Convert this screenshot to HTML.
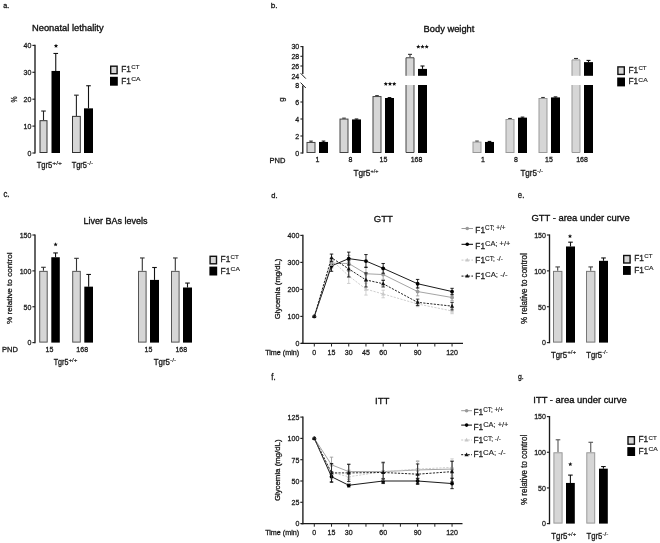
<!DOCTYPE html>
<html><head><meta charset="utf-8"><title>Figure</title>
<style>
html,body{margin:0;padding:0;background:#fff;}
body{width:660px;height:543px;overflow:hidden;}
svg{display:block;font-family:"Liberation Sans",sans-serif;filter:grayscale(1);}
</style></head><body>
<svg width="660" height="543" viewBox="0 0 660 543">
<rect width="660" height="543" fill="#fff"/>
<text transform="translate(3.296 7.9) scale(0.936 1)" font-size="7.628" fill="#1a1a1a" stroke="#1a1a1a" stroke-width="0.31">a.</text>
<text transform="translate(270.763 7.9) scale(1.07 1)" font-size="7.724" fill="#1a1a1a" stroke="#1a1a1a" stroke-width="0.29">b.</text>
<text transform="translate(3.471 197.4) scale(0.947 1)" font-size="8.186" fill="#1a1a1a" stroke="#1a1a1a" stroke-width="0.308">c.</text>
<text transform="translate(271.278 197.8) scale(0.98 1)" font-size="7.724" fill="#1a1a1a" stroke="#1a1a1a" stroke-width="0.303">d.</text>
<text transform="translate(517.872 198) scale(0.846 1)" font-size="9.116" fill="#1a1a1a" stroke="#1a1a1a" stroke-width="0.325">e.</text>
<text transform="translate(271.283 380) scale(0.906 1)" font-size="8.581" fill="#1a1a1a" stroke="#1a1a1a" stroke-width="0.315">f.</text>
<text transform="translate(517.909 379) scale(0.945 1)" font-size="7.256" fill="#1a1a1a" stroke="#1a1a1a" stroke-width="0.308">g.</text>
<text transform="translate(31.978 31.2) scale(1.02 1)" font-size="9.172" fill="#111" stroke="#111" stroke-width="0.337">Neonatal lethality</text>
<line x1="35" y1="44.8" x2="35" y2="153.6" stroke="#1a1a1a" stroke-width="1.35"/>
<line x1="32.4" y1="153" x2="35" y2="153" stroke="#222" stroke-width="1.15"/>
<text transform="translate(31.4 155.85) scale(0.88 1)" font-size="8" text-anchor="end" fill="#1a1a1a" stroke="#1a1a1a" stroke-width="0.3">0</text>
<line x1="32.4" y1="126.1" x2="35" y2="126.1" stroke="#222" stroke-width="1.15"/>
<text transform="translate(31.4 128.95) scale(0.88 1)" font-size="8" text-anchor="end" fill="#1a1a1a" stroke="#1a1a1a" stroke-width="0.3">10</text>
<line x1="32.4" y1="99.2" x2="35" y2="99.2" stroke="#222" stroke-width="1.15"/>
<text transform="translate(31.4 102.05) scale(0.88 1)" font-size="8" text-anchor="end" fill="#1a1a1a" stroke="#1a1a1a" stroke-width="0.3">20</text>
<line x1="32.4" y1="72.3" x2="35" y2="72.3" stroke="#222" stroke-width="1.15"/>
<text transform="translate(31.4 75.15) scale(0.88 1)" font-size="8" text-anchor="end" fill="#1a1a1a" stroke="#1a1a1a" stroke-width="0.3">30</text>
<line x1="32.4" y1="45.4" x2="35" y2="45.4" stroke="#222" stroke-width="1.15"/>
<text transform="translate(31.4 48.25) scale(0.88 1)" font-size="8" text-anchor="end" fill="#1a1a1a" stroke="#1a1a1a" stroke-width="0.3">40</text>
<text transform="translate(16.859 102.44) rotate(-90) scale(0.827 1)" font-size="8.286" fill="#1a1a1a" stroke="#1a1a1a" stroke-width="0.3">%</text>
<line x1="43.5" y1="111.036" x2="43.5" y2="120.182" stroke="#222" stroke-width="1.1"/>
<line x1="41.2" y1="111.036" x2="45.8" y2="111.036" stroke="#222" stroke-width="1.1"/>
<rect x="40" y="120.682" width="7" height="31.818" fill="#d6d6d6" stroke="#333" stroke-width="1"/>
<line x1="55.75" y1="53.47" x2="55.75" y2="70.955" stroke="#111" stroke-width="1.1"/>
<line x1="53.45" y1="53.47" x2="58.05" y2="53.47" stroke="#111" stroke-width="1.1"/>
<rect x="51.5" y="70.955" width="8.5" height="82.045" fill="#000"/>
<line x1="76.4" y1="95.165" x2="76.4" y2="115.878" stroke="#222" stroke-width="1.1"/>
<line x1="74.1" y1="95.165" x2="78.7" y2="95.165" stroke="#222" stroke-width="1.1"/>
<rect x="72.5" y="116.378" width="7.8" height="36.122" fill="#d6d6d6" stroke="#333" stroke-width="1"/>
<line x1="88.5" y1="85.75" x2="88.5" y2="108.346" stroke="#111" stroke-width="1.1"/>
<line x1="86.2" y1="85.75" x2="90.8" y2="85.75" stroke="#111" stroke-width="1.1"/>
<rect x="84" y="108.346" width="9" height="44.654" fill="#000"/>
<polygon points="56,43.65 56.617,45.051 58.14,45.205 56.999,46.224 57.323,47.72 56,46.95 54.677,47.72 55.001,46.224 53.86,45.205 55.383,45.051" fill="#111"/>
<rect x="110.7" y="66.2" width="6.4" height="7.5" fill="#d6d6d6" stroke="#111" stroke-width="1.4"/>
<rect x="110" y="76.8" width="7.8" height="8.9" fill="#000"/>
<text transform="translate(121.214 71.9) scale(0.907 1)" font-size="9.164" fill="#222" stroke="#222" stroke-width="0.315">F1</text>
<text transform="translate(131.19 69) scale(1.028 1)" font-size="6.022" fill="#222" stroke="#222" stroke-width="0.148">CT</text>
<text transform="translate(121.214 83.7) scale(0.907 1)" font-size="9.164" fill="#222" stroke="#222" stroke-width="0.315">F1</text>
<text transform="translate(131.164 80.8) scale(1.203 1)" font-size="5.591" fill="#222" stroke="#222" stroke-width="0.136">CA</text>
<text transform="translate(36.629 167.5) scale(0.914 1)" font-size="8.291" fill="#1a1a1a" stroke="#1a1a1a" stroke-width="0.313">Tgr5</text>
<text transform="translate(52.262 164.5) scale(1.139 1)" font-size="5.931" fill="#1a1a1a" stroke="#1a1a1a" stroke-width="0.168">+/+</text>
<text transform="translate(71.632 167.5) scale(0.902 1)" font-size="8.291" fill="#1a1a1a" stroke="#1a1a1a" stroke-width="0.315">Tgr5</text>
<text transform="translate(87.11 164.5) scale(1.088 1)" font-size="5.931" fill="#1a1a1a" stroke="#1a1a1a" stroke-width="0.172">-/-</text>
<text transform="translate(423.58 32.2) scale(0.96 1)" font-size="9.724" fill="#111" stroke="#111" stroke-width="0.347">Body weight</text>
<line x1="302.8" y1="46" x2="302.8" y2="74" stroke="#1a1a1a" stroke-width="1.35"/>
<line x1="302.8" y1="85.6" x2="302.8" y2="153.6" stroke="#1a1a1a" stroke-width="1.35"/>
<line x1="300.6" y1="73.2" x2="305.8" y2="78.6" stroke="#222" stroke-width="1"/>
<line x1="300.6" y1="82.6" x2="305.8" y2="88" stroke="#222" stroke-width="1"/>
<line x1="300.4" y1="46.6" x2="303" y2="46.6" stroke="#222" stroke-width="1.1"/>
<text transform="translate(299.2 49.45) scale(0.88 1)" font-size="8" text-anchor="end" fill="#1a1a1a" stroke="#1a1a1a" stroke-width="0.3">30</text>
<line x1="300.4" y1="56.3" x2="303" y2="56.3" stroke="#222" stroke-width="1.1"/>
<text transform="translate(299.2 59.15) scale(0.88 1)" font-size="8" text-anchor="end" fill="#1a1a1a" stroke="#1a1a1a" stroke-width="0.3">28</text>
<line x1="300.4" y1="66" x2="303" y2="66" stroke="#222" stroke-width="1.1"/>
<text transform="translate(299.2 68.85) scale(0.88 1)" font-size="8" text-anchor="end" fill="#1a1a1a" stroke="#1a1a1a" stroke-width="0.3">26</text>
<text transform="translate(299.2 78.55) scale(0.88 1)" font-size="8" text-anchor="end" fill="#1a1a1a" stroke="#1a1a1a" stroke-width="0.3">24</text>
<text transform="translate(299.2 87.85) scale(0.88 1)" font-size="8" text-anchor="end" fill="#1a1a1a" stroke="#1a1a1a" stroke-width="0.3">8</text>
<line x1="300.4" y1="102" x2="303" y2="102" stroke="#222" stroke-width="1.1"/>
<text transform="translate(299.2 104.85) scale(0.88 1)" font-size="8" text-anchor="end" fill="#1a1a1a" stroke="#1a1a1a" stroke-width="0.3">6</text>
<line x1="300.4" y1="119" x2="303" y2="119" stroke="#222" stroke-width="1.1"/>
<text transform="translate(299.2 121.85) scale(0.88 1)" font-size="8" text-anchor="end" fill="#1a1a1a" stroke="#1a1a1a" stroke-width="0.3">4</text>
<line x1="300.4" y1="136" x2="303" y2="136" stroke="#222" stroke-width="1.1"/>
<text transform="translate(299.2 138.85) scale(0.88 1)" font-size="8" text-anchor="end" fill="#1a1a1a" stroke="#1a1a1a" stroke-width="0.3">2</text>
<line x1="300.4" y1="153" x2="303" y2="153" stroke="#222" stroke-width="1.1"/>
<text transform="translate(299.2 155.85) scale(0.88 1)" font-size="8" text-anchor="end" fill="#1a1a1a" stroke="#1a1a1a" stroke-width="0.3">0</text>
<text transform="translate(283.557 101.831) rotate(-90) scale(0.982 1)" font-size="7.919" fill="#1a1a1a" stroke="#1a1a1a" stroke-width="0.3">g</text>
<line x1="311" y1="141.1" x2="311" y2="141.95" stroke="#333" stroke-width="1.1"/>
<line x1="309.2" y1="141.1" x2="312.8" y2="141.1" stroke="#333" stroke-width="1.1"/>
<rect x="307" y="142.45" width="8" height="10.05" fill="#d6d6d6" stroke="#444" stroke-width="1"/>
<line x1="323.5" y1="141.1" x2="323.5" y2="141.95" stroke="#111" stroke-width="1.1"/>
<line x1="321.7" y1="141.1" x2="325.3" y2="141.1" stroke="#111" stroke-width="1.1"/>
<rect x="319" y="141.95" width="9" height="11.05" fill="#000"/>
<line x1="344" y1="118.15" x2="344" y2="118.575" stroke="#333" stroke-width="1.1"/>
<line x1="342.2" y1="118.15" x2="345.8" y2="118.15" stroke="#333" stroke-width="1.1"/>
<rect x="340" y="119.075" width="8" height="33.425" fill="#d6d6d6" stroke="#444" stroke-width="1"/>
<line x1="356.5" y1="119" x2="356.5" y2="119.425" stroke="#111" stroke-width="1.1"/>
<line x1="354.7" y1="119" x2="358.3" y2="119" stroke="#111" stroke-width="1.1"/>
<rect x="352" y="119.425" width="9" height="33.575" fill="#000"/>
<line x1="377" y1="95.625" x2="377" y2="96.05" stroke="#333" stroke-width="1.1"/>
<line x1="375.2" y1="95.625" x2="378.8" y2="95.625" stroke="#333" stroke-width="1.1"/>
<rect x="373" y="96.55" width="8" height="55.95" fill="#d6d6d6" stroke="#444" stroke-width="1"/>
<line x1="389.5" y1="97.58" x2="389.5" y2="98.005" stroke="#111" stroke-width="1.1"/>
<line x1="387.7" y1="97.58" x2="391.3" y2="97.58" stroke="#111" stroke-width="1.1"/>
<rect x="385" y="98.005" width="9" height="54.995" fill="#000"/>
<line x1="410" y1="54.36" x2="410" y2="57.27" stroke="#333" stroke-width="1.1"/>
<line x1="408" y1="54.36" x2="412" y2="54.36" stroke="#333" stroke-width="1.1"/>
<path d="M406 75.8V57.77H414V75.8" fill="#d6d6d6" stroke="#444" stroke-width="1"/>
<path d="M406 85V152.5H414V85" fill="#d6d6d6" stroke="#444" stroke-width="1"/>
<line x1="422.5" y1="66" x2="422.5" y2="68.91" stroke="#111" stroke-width="1.1"/>
<line x1="420.5" y1="66" x2="424.5" y2="66" stroke="#111" stroke-width="1.1"/>
<rect x="418" y="68.91" width="9" height="6.89" fill="#000"/>
<rect x="418" y="85" width="9" height="68" fill="#000"/>
<line x1="477" y1="141.1" x2="477" y2="141.61" stroke="#333" stroke-width="1.1"/>
<line x1="475.2" y1="141.1" x2="478.8" y2="141.1" stroke="#333" stroke-width="1.1"/>
<rect x="473" y="142.11" width="8" height="10.39" fill="#d6d6d6" stroke="#999" stroke-width="1"/>
<line x1="489.5" y1="141.44" x2="489.5" y2="141.95" stroke="#111" stroke-width="1.1"/>
<line x1="487.7" y1="141.44" x2="491.3" y2="141.44" stroke="#111" stroke-width="1.1"/>
<rect x="485" y="141.95" width="9" height="11.05" fill="#000"/>
<line x1="510" y1="118.49" x2="510" y2="119" stroke="#333" stroke-width="1.1"/>
<line x1="508.2" y1="118.49" x2="511.8" y2="118.49" stroke="#333" stroke-width="1.1"/>
<rect x="506" y="119.5" width="8" height="33" fill="#d6d6d6" stroke="#999" stroke-width="1"/>
<line x1="522.5" y1="117.13" x2="522.5" y2="117.64" stroke="#111" stroke-width="1.1"/>
<line x1="520.7" y1="117.13" x2="524.3" y2="117.13" stroke="#111" stroke-width="1.1"/>
<rect x="518" y="117.64" width="9" height="35.36" fill="#000"/>
<line x1="543" y1="97.495" x2="543" y2="98.005" stroke="#333" stroke-width="1.1"/>
<line x1="541.2" y1="97.495" x2="544.8" y2="97.495" stroke="#333" stroke-width="1.1"/>
<rect x="539" y="98.505" width="8" height="53.995" fill="#d6d6d6" stroke="#999" stroke-width="1"/>
<line x1="555.5" y1="96.9" x2="555.5" y2="97.41" stroke="#111" stroke-width="1.1"/>
<line x1="553.7" y1="96.9" x2="557.3" y2="96.9" stroke="#111" stroke-width="1.1"/>
<rect x="551" y="97.41" width="9" height="55.59" fill="#000"/>
<line x1="576" y1="58.482" x2="576" y2="59.404" stroke="#333" stroke-width="1.1"/>
<line x1="574" y1="58.482" x2="578" y2="58.482" stroke="#333" stroke-width="1.1"/>
<path d="M572 75.8V59.904H580V75.8" fill="#d6d6d6" stroke="#999" stroke-width="1"/>
<path d="M572 85V152.5H580V85" fill="#d6d6d6" stroke="#999" stroke-width="1"/>
<line x1="588.5" y1="60.423" x2="588.5" y2="62.12" stroke="#111" stroke-width="1.1"/>
<line x1="586.5" y1="60.423" x2="590.5" y2="60.423" stroke="#111" stroke-width="1.1"/>
<rect x="584" y="62.12" width="9" height="13.68" fill="#000"/>
<rect x="584" y="85" width="9" height="68" fill="#000"/>
<polygon points="385.8,81.65 386.417,83.051 387.94,83.205 386.799,84.224 387.123,85.72 385.8,84.95 384.477,85.72 384.801,84.224 383.66,83.205 385.183,83.051" fill="#111"/>
<polygon points="390,81.65 390.617,83.051 392.14,83.205 390.999,84.224 391.323,85.72 390,84.95 388.677,85.72 389.001,84.224 387.86,83.205 389.383,83.051" fill="#111"/>
<polygon points="394.2,81.65 394.817,83.051 396.34,83.205 395.199,84.224 395.523,85.72 394.2,84.95 392.877,85.72 393.201,84.224 392.06,83.205 393.583,83.051" fill="#111"/>
<polygon points="418.3,44.55 418.917,45.951 420.44,46.105 419.299,47.124 419.623,48.62 418.3,47.85 416.977,48.62 417.301,47.124 416.16,46.105 417.683,45.951" fill="#111"/>
<polygon points="422.5,44.55 423.117,45.951 424.64,46.105 423.499,47.124 423.823,48.62 422.5,47.85 421.177,48.62 421.501,47.124 420.36,46.105 421.883,45.951" fill="#111"/>
<polygon points="426.7,44.55 427.317,45.951 428.84,46.105 427.699,47.124 428.023,48.62 426.7,47.85 425.377,48.62 425.701,47.124 424.56,46.105 426.083,45.951" fill="#111"/>
<text transform="translate(269.48 162.5) scale(1.033 1)" font-size="7.273" fill="#1a1a1a" stroke="#1a1a1a" stroke-width="0.295">PND</text>
<text transform="translate(317.5 162.4) scale(0.88 1)" font-size="8" text-anchor="middle" fill="#1a1a1a" stroke="#1a1a1a" stroke-width="0.3">1</text>
<text transform="translate(483 162.4) scale(0.88 1)" font-size="8" text-anchor="middle" fill="#1a1a1a" stroke="#1a1a1a" stroke-width="0.3">1</text>
<text transform="translate(350.5 162.4) scale(0.88 1)" font-size="8" text-anchor="middle" fill="#1a1a1a" stroke="#1a1a1a" stroke-width="0.3">8</text>
<text transform="translate(516 162.4) scale(0.88 1)" font-size="8" text-anchor="middle" fill="#1a1a1a" stroke="#1a1a1a" stroke-width="0.3">8</text>
<text transform="translate(383.5 162.4) scale(0.88 1)" font-size="8" text-anchor="middle" fill="#1a1a1a" stroke="#1a1a1a" stroke-width="0.3">15</text>
<text transform="translate(549 162.4) scale(0.88 1)" font-size="8" text-anchor="middle" fill="#1a1a1a" stroke="#1a1a1a" stroke-width="0.3">15</text>
<text transform="translate(416.5 162.4) scale(0.88 1)" font-size="8" text-anchor="middle" fill="#1a1a1a" stroke="#1a1a1a" stroke-width="0.3">168</text>
<text transform="translate(582 162.4) scale(0.88 1)" font-size="8" text-anchor="middle" fill="#1a1a1a" stroke="#1a1a1a" stroke-width="0.3">168</text>
<text transform="translate(353.414 176.2) scale(0.999 1)" font-size="8.291" fill="#1a1a1a" stroke="#1a1a1a" stroke-width="0.3">Tgr5</text>
<text transform="translate(370.525 173.2) scale(0.926 1)" font-size="5.931" fill="#1a1a1a" stroke="#1a1a1a" stroke-width="0.187">+/+</text>
<text transform="translate(520.418 176.2) scale(0.975 1)" font-size="8.291" fill="#1a1a1a" stroke="#1a1a1a" stroke-width="0.304">Tgr5</text>
<text transform="translate(537.115 173.2) scale(1.068 1)" font-size="5.931" fill="#1a1a1a" stroke="#1a1a1a" stroke-width="0.174">-/-</text>
<rect x="617.9" y="66.9" width="6.4" height="7.5" fill="#d6d6d6" stroke="#111" stroke-width="1.4"/>
<rect x="617.2" y="77.5" width="7.8" height="8.9" fill="#000"/>
<text transform="translate(628.414 72.6) scale(0.907 1)" font-size="9.164" fill="#222" stroke="#222" stroke-width="0.315">F1</text>
<text transform="translate(638.39 69.7) scale(1.028 1)" font-size="6.022" fill="#222" stroke="#222" stroke-width="0.148">CT</text>
<text transform="translate(628.414 84.4) scale(0.907 1)" font-size="9.164" fill="#222" stroke="#222" stroke-width="0.315">F1</text>
<text transform="translate(638.364 81.5) scale(1.203 1)" font-size="5.591" fill="#222" stroke="#222" stroke-width="0.136">CA</text>
<text transform="translate(83.407 223.8) scale(0.926 1)" font-size="9.724" fill="#111" stroke="#111" stroke-width="0.353">Liver BAs levels</text>
<line x1="35" y1="234.405" x2="35" y2="343.2" stroke="#1a1a1a" stroke-width="1.35"/>
<line x1="32.4" y1="342.6" x2="35" y2="342.6" stroke="#222" stroke-width="1.15"/>
<text transform="translate(31.4 345.45) scale(0.88 1)" font-size="8" text-anchor="end" fill="#1a1a1a" stroke="#1a1a1a" stroke-width="0.3">0</text>
<line x1="32.4" y1="306.735" x2="35" y2="306.735" stroke="#222" stroke-width="1.15"/>
<text transform="translate(31.4 309.585) scale(0.88 1)" font-size="8" text-anchor="end" fill="#1a1a1a" stroke="#1a1a1a" stroke-width="0.3">50</text>
<line x1="32.4" y1="270.87" x2="35" y2="270.87" stroke="#222" stroke-width="1.15"/>
<text transform="translate(31.4 273.72) scale(0.88 1)" font-size="8" text-anchor="end" fill="#1a1a1a" stroke="#1a1a1a" stroke-width="0.3">100</text>
<line x1="32.4" y1="235.005" x2="35" y2="235.005" stroke="#222" stroke-width="1.15"/>
<text transform="translate(31.4 237.855) scale(0.88 1)" font-size="8" text-anchor="end" fill="#1a1a1a" stroke="#1a1a1a" stroke-width="0.3">150</text>
<text transform="translate(12.02 323.885) rotate(-90) scale(1.015 1)" font-size="8.027" fill="#1a1a1a" stroke="#1a1a1a" stroke-width="0.3">% relative to control</text>
<line x1="43.45" y1="267.284" x2="43.45" y2="270.87" stroke="#333" stroke-width="1.1"/>
<line x1="41.15" y1="267.284" x2="45.75" y2="267.284" stroke="#333" stroke-width="1.1"/>
<rect x="39.7" y="271.37" width="7.5" height="70.73" fill="#d6d6d6" stroke="#555" stroke-width="1"/>
<line x1="55.55" y1="252.938" x2="55.55" y2="257.241" stroke="#111" stroke-width="1.1"/>
<line x1="53.25" y1="252.938" x2="57.85" y2="252.938" stroke="#111" stroke-width="1.1"/>
<rect x="51.3" y="257.241" width="8.5" height="85.359" fill="#000"/>
<line x1="76.5" y1="258.317" x2="76.5" y2="270.87" stroke="#333" stroke-width="1.1"/>
<line x1="74.2" y1="258.317" x2="78.8" y2="258.317" stroke="#333" stroke-width="1.1"/>
<rect x="72.7" y="271.37" width="7.6" height="70.73" fill="#d6d6d6" stroke="#555" stroke-width="1"/>
<line x1="88.65" y1="274.457" x2="88.65" y2="286.651" stroke="#111" stroke-width="1.1"/>
<line x1="86.35" y1="274.457" x2="90.95" y2="274.457" stroke="#111" stroke-width="1.1"/>
<rect x="84.3" y="286.651" width="8.7" height="55.949" fill="#000"/>
<line x1="142.3" y1="257.959" x2="142.3" y2="270.87" stroke="#333" stroke-width="1.1"/>
<line x1="140" y1="257.959" x2="144.6" y2="257.959" stroke="#333" stroke-width="1.1"/>
<rect x="138.5" y="271.37" width="7.6" height="70.73" fill="#d6d6d6" stroke="#555" stroke-width="1"/>
<line x1="154.5" y1="267.499" x2="154.5" y2="279.908" stroke="#111" stroke-width="1.1"/>
<line x1="152.2" y1="267.499" x2="156.8" y2="267.499" stroke="#111" stroke-width="1.1"/>
<rect x="150" y="279.908" width="9" height="62.692" fill="#000"/>
<line x1="175.3" y1="257.959" x2="175.3" y2="270.87" stroke="#333" stroke-width="1.1"/>
<line x1="173" y1="257.959" x2="177.6" y2="257.959" stroke="#333" stroke-width="1.1"/>
<rect x="171.5" y="271.37" width="7.6" height="70.73" fill="#d6d6d6" stroke="#555" stroke-width="1"/>
<line x1="187.5" y1="283.064" x2="187.5" y2="287.511" stroke="#111" stroke-width="1.1"/>
<line x1="185.2" y1="283.064" x2="189.8" y2="283.064" stroke="#111" stroke-width="1.1"/>
<rect x="183" y="287.511" width="9" height="55.089" fill="#000"/>
<polygon points="55.6,242.25 56.217,243.651 57.74,243.805 56.599,244.824 56.923,246.32 55.6,245.55 54.277,246.32 54.601,244.824 53.46,243.805 54.983,243.651" fill="#111"/>
<text transform="translate(1.98 352.1) scale(1.033 1)" font-size="7.273" fill="#1a1a1a" stroke="#1a1a1a" stroke-width="0.295">PND</text>
<text transform="translate(49.5 352.1) scale(0.88 1)" font-size="8" text-anchor="middle" fill="#1a1a1a" stroke="#1a1a1a" stroke-width="0.3">15</text>
<text transform="translate(82.2 352.1) scale(0.88 1)" font-size="8" text-anchor="middle" fill="#1a1a1a" stroke="#1a1a1a" stroke-width="0.3">168</text>
<text transform="translate(148.4 352.1) scale(0.88 1)" font-size="8" text-anchor="middle" fill="#1a1a1a" stroke="#1a1a1a" stroke-width="0.3">15</text>
<text transform="translate(181.3 352.1) scale(0.88 1)" font-size="8" text-anchor="middle" fill="#1a1a1a" stroke="#1a1a1a" stroke-width="0.3">168</text>
<text transform="translate(53.639 365.3) scale(0.851 1)" font-size="8.436" fill="#1a1a1a" stroke="#1a1a1a" stroke-width="0.324">Tgr5</text>
<text transform="translate(68.488 362.2) scale(1.051 1)" font-size="5.931" fill="#1a1a1a" stroke="#1a1a1a" stroke-width="0.176">+/+</text>
<text transform="translate(153.722 365.3) scale(0.94 1)" font-size="8.436" fill="#1a1a1a" stroke="#1a1a1a" stroke-width="0.309">Tgr5</text>
<text transform="translate(170.115 362.2) scale(1.068 1)" font-size="5.931" fill="#1a1a1a" stroke="#1a1a1a" stroke-width="0.174">-/-</text>
<rect x="210.1" y="256.3" width="6.4" height="7.5" fill="#d6d6d6" stroke="#111" stroke-width="1.4"/>
<rect x="209.4" y="266.6" width="7.8" height="8.9" fill="#000"/>
<text transform="translate(220.614 262) scale(0.907 1)" font-size="9.164" fill="#222" stroke="#222" stroke-width="0.315">F1</text>
<text transform="translate(230.59 259.1) scale(1.028 1)" font-size="6.022" fill="#222" stroke="#222" stroke-width="0.148">CT</text>
<text transform="translate(220.614 273.5) scale(0.907 1)" font-size="9.164" fill="#222" stroke="#222" stroke-width="0.315">F1</text>
<text transform="translate(230.564 270.6) scale(1.203 1)" font-size="5.591" fill="#222" stroke="#222" stroke-width="0.136">CA</text>
<text transform="translate(373.822 222) scale(1.093 1)" font-size="8.746" fill="#111" stroke="#111" stroke-width="0.268">GTT</text>
<line x1="302.9" y1="234.8" x2="302.9" y2="344" stroke="#1a1a1a" stroke-width="1.35"/>
<line x1="300.3" y1="343.4" x2="302.9" y2="343.4" stroke="#222" stroke-width="1.15"/>
<text transform="translate(299.3 346.25) scale(0.88 1)" font-size="8" text-anchor="end" fill="#1a1a1a" stroke="#1a1a1a" stroke-width="0.3">0</text>
<line x1="300.3" y1="316.4" x2="302.9" y2="316.4" stroke="#222" stroke-width="1.15"/>
<text transform="translate(299.3 319.25) scale(0.88 1)" font-size="8" text-anchor="end" fill="#1a1a1a" stroke="#1a1a1a" stroke-width="0.3">100</text>
<line x1="300.3" y1="289.4" x2="302.9" y2="289.4" stroke="#222" stroke-width="1.15"/>
<text transform="translate(299.3 292.25) scale(0.88 1)" font-size="8" text-anchor="end" fill="#1a1a1a" stroke="#1a1a1a" stroke-width="0.3">200</text>
<line x1="300.3" y1="262.4" x2="302.9" y2="262.4" stroke="#222" stroke-width="1.15"/>
<text transform="translate(299.3 265.25) scale(0.88 1)" font-size="8" text-anchor="end" fill="#1a1a1a" stroke="#1a1a1a" stroke-width="0.3">300</text>
<line x1="300.3" y1="235.4" x2="302.9" y2="235.4" stroke="#222" stroke-width="1.15"/>
<text transform="translate(299.3 238.25) scale(0.88 1)" font-size="8" text-anchor="end" fill="#1a1a1a" stroke="#1a1a1a" stroke-width="0.3">400</text>
<line x1="301" y1="343.3" x2="463" y2="343.3" stroke="#1a1a1a" stroke-width="1.3"/>
<line x1="314.3" y1="343.4" x2="314.3" y2="346.5" stroke="#222" stroke-width="1"/>
<line x1="331.52" y1="343.4" x2="331.52" y2="346.5" stroke="#222" stroke-width="1"/>
<line x1="348.74" y1="343.4" x2="348.74" y2="346.5" stroke="#222" stroke-width="1"/>
<line x1="365.96" y1="343.4" x2="365.96" y2="346.5" stroke="#222" stroke-width="1"/>
<line x1="383.18" y1="343.4" x2="383.18" y2="346.5" stroke="#222" stroke-width="1"/>
<line x1="400.4" y1="343.4" x2="400.4" y2="346.5" stroke="#222" stroke-width="1"/>
<line x1="417.62" y1="343.4" x2="417.62" y2="346.5" stroke="#222" stroke-width="1"/>
<line x1="434.84" y1="343.4" x2="434.84" y2="346.5" stroke="#222" stroke-width="1"/>
<line x1="452.06" y1="343.4" x2="452.06" y2="346.5" stroke="#222" stroke-width="1"/>
<text transform="translate(314.3 354.5) scale(0.88 1)" font-size="8" text-anchor="middle" fill="#1a1a1a" stroke="#1a1a1a" stroke-width="0.3">0</text>
<text transform="translate(331.52 354.5) scale(0.88 1)" font-size="8" text-anchor="middle" fill="#1a1a1a" stroke="#1a1a1a" stroke-width="0.3">15</text>
<text transform="translate(348.74 354.5) scale(0.88 1)" font-size="8" text-anchor="middle" fill="#1a1a1a" stroke="#1a1a1a" stroke-width="0.3">30</text>
<text transform="translate(365.96 354.5) scale(0.88 1)" font-size="8" text-anchor="middle" fill="#1a1a1a" stroke="#1a1a1a" stroke-width="0.3">45</text>
<text transform="translate(383.18 354.5) scale(0.88 1)" font-size="8" text-anchor="middle" fill="#1a1a1a" stroke="#1a1a1a" stroke-width="0.3">60</text>
<text transform="translate(417.62 354.5) scale(0.88 1)" font-size="8" text-anchor="middle" fill="#1a1a1a" stroke="#1a1a1a" stroke-width="0.3">90</text>
<text transform="translate(452.06 354.5) scale(0.88 1)" font-size="8" text-anchor="middle" fill="#1a1a1a" stroke="#1a1a1a" stroke-width="0.3">120</text>
<text transform="translate(265.138 355) scale(0.966 1)" font-size="7.448" fill="#1a1a1a" stroke="#1a1a1a" stroke-width="0.305">Time (min)</text>
<text transform="translate(280.387 319.284) rotate(-90) scale(1.054 1)" font-size="7.292" fill="#1a1a1a" stroke="#1a1a1a" stroke-width="0.3">Glycemia (mg/dL)</text>
<polyline points="314.3,316.4 331.52,263.21 348.74,263.48 365.96,273.74 383.18,274.55 417.62,291.56 452.06,297.5" fill="none" stroke="#9a9a9a" stroke-width="0.9"/>
<line x1="331.52" y1="258.35" x2="331.52" y2="268.07" stroke="#9a9a9a" stroke-width="0.85"/>
<line x1="329.82" y1="258.35" x2="333.22" y2="258.35" stroke="#9a9a9a" stroke-width="0.85"/>
<line x1="329.82" y1="268.07" x2="333.22" y2="268.07" stroke="#9a9a9a" stroke-width="0.85"/>
<line x1="348.74" y1="255.38" x2="348.74" y2="271.58" stroke="#9a9a9a" stroke-width="0.85"/>
<line x1="347.04" y1="255.38" x2="350.44" y2="255.38" stroke="#9a9a9a" stroke-width="0.85"/>
<line x1="347.04" y1="271.58" x2="350.44" y2="271.58" stroke="#9a9a9a" stroke-width="0.85"/>
<line x1="365.96" y1="266.72" x2="365.96" y2="280.76" stroke="#9a9a9a" stroke-width="0.85"/>
<line x1="364.26" y1="266.72" x2="367.66" y2="266.72" stroke="#9a9a9a" stroke-width="0.85"/>
<line x1="364.26" y1="280.76" x2="367.66" y2="280.76" stroke="#9a9a9a" stroke-width="0.85"/>
<line x1="383.18" y1="269.69" x2="383.18" y2="279.41" stroke="#9a9a9a" stroke-width="0.85"/>
<line x1="381.48" y1="269.69" x2="384.88" y2="269.69" stroke="#9a9a9a" stroke-width="0.85"/>
<line x1="381.48" y1="279.41" x2="384.88" y2="279.41" stroke="#9a9a9a" stroke-width="0.85"/>
<line x1="417.62" y1="287.24" x2="417.62" y2="295.88" stroke="#9a9a9a" stroke-width="0.85"/>
<line x1="415.92" y1="287.24" x2="419.32" y2="287.24" stroke="#9a9a9a" stroke-width="0.85"/>
<line x1="415.92" y1="295.88" x2="419.32" y2="295.88" stroke="#9a9a9a" stroke-width="0.85"/>
<line x1="452.06" y1="294.26" x2="452.06" y2="300.74" stroke="#9a9a9a" stroke-width="0.85"/>
<line x1="450.36" y1="294.26" x2="453.76" y2="294.26" stroke="#9a9a9a" stroke-width="0.85"/>
<line x1="450.36" y1="300.74" x2="453.76" y2="300.74" stroke="#9a9a9a" stroke-width="0.85"/>
<circle cx="314.3" cy="316.4" r="1.9" fill="#9a9a9a"/>
<circle cx="331.52" cy="263.21" r="1.9" fill="#9a9a9a"/>
<circle cx="348.74" cy="263.48" r="1.9" fill="#9a9a9a"/>
<circle cx="365.96" cy="273.74" r="1.9" fill="#9a9a9a"/>
<circle cx="383.18" cy="274.55" r="1.9" fill="#9a9a9a"/>
<circle cx="417.62" cy="291.56" r="1.9" fill="#9a9a9a"/>
<circle cx="452.06" cy="297.5" r="1.9" fill="#9a9a9a"/>
<polyline points="314.3,316.4 331.52,265.91 348.74,258.62 365.96,261.05 383.18,268.34 417.62,283.73 452.06,291.56" fill="none" stroke="#000" stroke-width="0.9"/>
<line x1="331.52" y1="260.51" x2="331.52" y2="271.31" stroke="#000" stroke-width="0.85"/>
<line x1="329.82" y1="260.51" x2="333.22" y2="260.51" stroke="#000" stroke-width="0.85"/>
<line x1="329.82" y1="271.31" x2="333.22" y2="271.31" stroke="#000" stroke-width="0.85"/>
<line x1="348.74" y1="252.14" x2="348.74" y2="265.1" stroke="#000" stroke-width="0.85"/>
<line x1="347.04" y1="252.14" x2="350.44" y2="252.14" stroke="#000" stroke-width="0.85"/>
<line x1="347.04" y1="265.1" x2="350.44" y2="265.1" stroke="#000" stroke-width="0.85"/>
<line x1="365.96" y1="254.57" x2="365.96" y2="267.53" stroke="#000" stroke-width="0.85"/>
<line x1="364.26" y1="254.57" x2="367.66" y2="254.57" stroke="#000" stroke-width="0.85"/>
<line x1="364.26" y1="267.53" x2="367.66" y2="267.53" stroke="#000" stroke-width="0.85"/>
<line x1="383.18" y1="263.48" x2="383.18" y2="273.2" stroke="#000" stroke-width="0.85"/>
<line x1="381.48" y1="263.48" x2="384.88" y2="263.48" stroke="#000" stroke-width="0.85"/>
<line x1="381.48" y1="273.2" x2="384.88" y2="273.2" stroke="#000" stroke-width="0.85"/>
<line x1="417.62" y1="279.41" x2="417.62" y2="288.05" stroke="#000" stroke-width="0.85"/>
<line x1="415.92" y1="279.41" x2="419.32" y2="279.41" stroke="#000" stroke-width="0.85"/>
<line x1="415.92" y1="288.05" x2="419.32" y2="288.05" stroke="#000" stroke-width="0.85"/>
<line x1="452.06" y1="288.32" x2="452.06" y2="294.8" stroke="#000" stroke-width="0.85"/>
<line x1="450.36" y1="288.32" x2="453.76" y2="288.32" stroke="#000" stroke-width="0.85"/>
<line x1="450.36" y1="294.8" x2="453.76" y2="294.8" stroke="#000" stroke-width="0.85"/>
<circle cx="314.3" cy="316.4" r="1.9" fill="#000"/>
<circle cx="331.52" cy="265.91" r="1.9" fill="#000"/>
<circle cx="348.74" cy="258.62" r="1.9" fill="#000"/>
<circle cx="365.96" cy="261.05" r="1.9" fill="#000"/>
<circle cx="383.18" cy="268.34" r="1.9" fill="#000"/>
<circle cx="417.62" cy="283.73" r="1.9" fill="#000"/>
<circle cx="452.06" cy="291.56" r="1.9" fill="#000"/>
<polyline points="314.3,316.4 331.52,259.97 348.74,275.9 365.96,289.13 383.18,293.99 417.62,303.98 452.06,311" fill="none" stroke="#c8c8c8" stroke-width="0.9" stroke-dasharray="2.2,1.3"/>
<line x1="331.52" y1="254.57" x2="331.52" y2="265.37" stroke="#c8c8c8" stroke-width="0.85"/>
<line x1="329.82" y1="254.57" x2="333.22" y2="254.57" stroke="#c8c8c8" stroke-width="0.85"/>
<line x1="329.82" y1="265.37" x2="333.22" y2="265.37" stroke="#c8c8c8" stroke-width="0.85"/>
<line x1="348.74" y1="268.34" x2="348.74" y2="283.46" stroke="#c8c8c8" stroke-width="0.85"/>
<line x1="347.04" y1="268.34" x2="350.44" y2="268.34" stroke="#c8c8c8" stroke-width="0.85"/>
<line x1="347.04" y1="283.46" x2="350.44" y2="283.46" stroke="#c8c8c8" stroke-width="0.85"/>
<line x1="365.96" y1="283.19" x2="365.96" y2="295.07" stroke="#c8c8c8" stroke-width="0.85"/>
<line x1="364.26" y1="283.19" x2="367.66" y2="283.19" stroke="#c8c8c8" stroke-width="0.85"/>
<line x1="364.26" y1="295.07" x2="367.66" y2="295.07" stroke="#c8c8c8" stroke-width="0.85"/>
<line x1="383.18" y1="290.21" x2="383.18" y2="297.77" stroke="#c8c8c8" stroke-width="0.85"/>
<line x1="381.48" y1="290.21" x2="384.88" y2="290.21" stroke="#c8c8c8" stroke-width="0.85"/>
<line x1="381.48" y1="297.77" x2="384.88" y2="297.77" stroke="#c8c8c8" stroke-width="0.85"/>
<line x1="417.62" y1="301.28" x2="417.62" y2="306.68" stroke="#c8c8c8" stroke-width="0.85"/>
<line x1="415.92" y1="301.28" x2="419.32" y2="301.28" stroke="#c8c8c8" stroke-width="0.85"/>
<line x1="415.92" y1="306.68" x2="419.32" y2="306.68" stroke="#c8c8c8" stroke-width="0.85"/>
<line x1="452.06" y1="308.3" x2="452.06" y2="313.7" stroke="#c8c8c8" stroke-width="0.85"/>
<line x1="450.36" y1="308.3" x2="453.76" y2="308.3" stroke="#c8c8c8" stroke-width="0.85"/>
<line x1="450.36" y1="313.7" x2="453.76" y2="313.7" stroke="#c8c8c8" stroke-width="0.85"/>
<path d="M314.3 314.1L316.4 317.9L312.2 317.9Z" fill="#c8c8c8"/>
<path d="M331.52 257.67L333.62 261.47L329.42 261.47Z" fill="#c8c8c8"/>
<path d="M348.74 273.6L350.84 277.4L346.64 277.4Z" fill="#c8c8c8"/>
<path d="M365.96 286.83L368.06 290.63L363.86 290.63Z" fill="#c8c8c8"/>
<path d="M383.18 291.69L385.28 295.49L381.08 295.49Z" fill="#c8c8c8"/>
<path d="M417.62 301.68L419.72 305.48L415.52 305.48Z" fill="#c8c8c8"/>
<path d="M452.06 308.7L454.16 312.5L449.96 312.5Z" fill="#c8c8c8"/>
<polyline points="314.3,316.4 331.52,257.81 348.74,268.88 365.96,279.95 383.18,283.73 417.62,302.36 452.06,306.14" fill="none" stroke="#111" stroke-width="0.9" stroke-dasharray="2.2,1.3"/>
<line x1="331.52" y1="254.03" x2="331.52" y2="261.59" stroke="#111" stroke-width="0.85"/>
<line x1="329.82" y1="254.03" x2="333.22" y2="254.03" stroke="#111" stroke-width="0.85"/>
<line x1="329.82" y1="261.59" x2="333.22" y2="261.59" stroke="#111" stroke-width="0.85"/>
<line x1="348.74" y1="260.78" x2="348.74" y2="276.98" stroke="#111" stroke-width="0.85"/>
<line x1="347.04" y1="260.78" x2="350.44" y2="260.78" stroke="#111" stroke-width="0.85"/>
<line x1="347.04" y1="276.98" x2="350.44" y2="276.98" stroke="#111" stroke-width="0.85"/>
<line x1="365.96" y1="272.93" x2="365.96" y2="286.97" stroke="#111" stroke-width="0.85"/>
<line x1="364.26" y1="272.93" x2="367.66" y2="272.93" stroke="#111" stroke-width="0.85"/>
<line x1="364.26" y1="286.97" x2="367.66" y2="286.97" stroke="#111" stroke-width="0.85"/>
<line x1="383.18" y1="280.49" x2="383.18" y2="286.97" stroke="#111" stroke-width="0.85"/>
<line x1="381.48" y1="280.49" x2="384.88" y2="280.49" stroke="#111" stroke-width="0.85"/>
<line x1="381.48" y1="286.97" x2="384.88" y2="286.97" stroke="#111" stroke-width="0.85"/>
<line x1="417.62" y1="299.12" x2="417.62" y2="305.6" stroke="#111" stroke-width="0.85"/>
<line x1="415.92" y1="299.12" x2="419.32" y2="299.12" stroke="#111" stroke-width="0.85"/>
<line x1="415.92" y1="305.6" x2="419.32" y2="305.6" stroke="#111" stroke-width="0.85"/>
<line x1="452.06" y1="302.36" x2="452.06" y2="309.92" stroke="#111" stroke-width="0.85"/>
<line x1="450.36" y1="302.36" x2="453.76" y2="302.36" stroke="#111" stroke-width="0.85"/>
<line x1="450.36" y1="309.92" x2="453.76" y2="309.92" stroke="#111" stroke-width="0.85"/>
<path d="M314.3 314.1L316.4 317.9L312.2 317.9Z" fill="#111"/>
<path d="M331.52 255.51L333.62 259.31L329.42 259.31Z" fill="#111"/>
<path d="M348.74 266.58L350.84 270.38L346.64 270.38Z" fill="#111"/>
<path d="M365.96 277.65L368.06 281.45L363.86 281.45Z" fill="#111"/>
<path d="M383.18 281.43L385.28 285.23L381.08 285.23Z" fill="#111"/>
<path d="M417.62 300.06L419.72 303.86L415.52 303.86Z" fill="#111"/>
<path d="M452.06 303.84L454.16 307.64L449.96 307.64Z" fill="#111"/>
<line x1="461.5" y1="228.5" x2="473" y2="228.5" stroke="#9a9a9a" stroke-width="1"/>
<circle cx="467.25" cy="228.5" r="1.8" fill="#9a9a9a"/>
<text transform="translate(475.314 232.8) scale(0.866 1)" font-size="9.6" fill="#222" stroke="#222" stroke-width="0.322">F1</text>
<text transform="translate(485.083 230.4) scale(0.977 1)" font-size="6.483" fill="#222" stroke="#222" stroke-width="0.142">CT; +/+</text>
<line x1="461.5" y1="244.3" x2="473" y2="244.3" stroke="#000" stroke-width="1"/>
<circle cx="467.25" cy="244.3" r="1.8" fill="#000"/>
<text transform="translate(475.314 248.5) scale(0.866 1)" font-size="9.6" fill="#222" stroke="#222" stroke-width="0.322">F1</text>
<text transform="translate(485.026 246.1) scale(1.153 1)" font-size="6.483" fill="#222" stroke="#222" stroke-width="0.13">CA; +/+</text>
<line x1="461.5" y1="260.1" x2="473" y2="260.1" stroke="#c8c8c8" stroke-width="1" stroke-dasharray="2,1.3"/>
<path d="M467.25 257.8L469.35 261.6L465.15 261.6Z" fill="#c8c8c8"/>
<text transform="translate(475.314 263.3) scale(0.866 1)" font-size="9.6" fill="#222" stroke="#222" stroke-width="0.322">F1</text>
<text transform="translate(485.073 260.9) scale(1.01 1)" font-size="6.483" fill="#222" stroke="#222" stroke-width="0.139">CT; -/-</text>
<line x1="461.5" y1="276.1" x2="473" y2="276.1" stroke="#111" stroke-width="1" stroke-dasharray="2,1.3"/>
<path d="M467.25 273.8L469.35 277.6L465.15 277.6Z" fill="#111"/>
<text transform="translate(475.314 279.4) scale(0.866 1)" font-size="9.6" fill="#222" stroke="#222" stroke-width="0.322">F1</text>
<text transform="translate(485.01 277) scale(1.204 1)" font-size="6.483" fill="#222" stroke="#222" stroke-width="0.127">CA; -/-</text>
<text transform="translate(531.377 221.3) scale(1 1)" font-size="9.448" fill="#111" stroke="#111" stroke-width="0.34">GTT - area under curve</text>
<line x1="549.5" y1="234.405" x2="549.5" y2="343.2" stroke="#1a1a1a" stroke-width="1.35"/>
<line x1="546.9" y1="342.6" x2="549.5" y2="342.6" stroke="#222" stroke-width="1.15"/>
<text transform="translate(545.9 345.45) scale(0.88 1)" font-size="8" text-anchor="end" fill="#1a1a1a" stroke="#1a1a1a" stroke-width="0.3">0</text>
<line x1="546.9" y1="306.735" x2="549.5" y2="306.735" stroke="#222" stroke-width="1.15"/>
<text transform="translate(545.9 309.585) scale(0.88 1)" font-size="8" text-anchor="end" fill="#1a1a1a" stroke="#1a1a1a" stroke-width="0.3">50</text>
<line x1="546.9" y1="270.87" x2="549.5" y2="270.87" stroke="#222" stroke-width="1.15"/>
<text transform="translate(545.9 273.72) scale(0.88 1)" font-size="8" text-anchor="end" fill="#1a1a1a" stroke="#1a1a1a" stroke-width="0.3">100</text>
<line x1="546.9" y1="235.005" x2="549.5" y2="235.005" stroke="#222" stroke-width="1.15"/>
<text transform="translate(545.9 237.855) scale(0.88 1)" font-size="8" text-anchor="end" fill="#1a1a1a" stroke="#1a1a1a" stroke-width="0.3">150</text>
<text transform="translate(527.113 323.882) rotate(-90) scale(0.925 1)" font-size="8.707" fill="#1a1a1a" stroke="#1a1a1a" stroke-width="0.3">% relative to control</text>
<line x1="557.7" y1="266.925" x2="557.7" y2="270.87" stroke="#444" stroke-width="1.1"/>
<line x1="555.4" y1="266.925" x2="560" y2="266.925" stroke="#444" stroke-width="1.1"/>
<rect x="553.5" y="271.37" width="8.4" height="70.73" fill="#d6d6d6" stroke="#777" stroke-width="1"/>
<line x1="570.5" y1="242.178" x2="570.5" y2="246.482" stroke="#111" stroke-width="1.1"/>
<line x1="568.2" y1="242.178" x2="572.8" y2="242.178" stroke="#111" stroke-width="1.1"/>
<rect x="566" y="246.482" width="9" height="96.118" fill="#000"/>
<line x1="590.7" y1="266.925" x2="590.7" y2="270.87" stroke="#444" stroke-width="1.1"/>
<line x1="588.4" y1="266.925" x2="593" y2="266.925" stroke="#444" stroke-width="1.1"/>
<rect x="586.5" y="271.37" width="8.4" height="70.73" fill="#d6d6d6" stroke="#777" stroke-width="1"/>
<line x1="603.5" y1="257.959" x2="603.5" y2="260.828" stroke="#111" stroke-width="1.1"/>
<line x1="601.2" y1="257.959" x2="605.8" y2="257.959" stroke="#111" stroke-width="1.1"/>
<rect x="599" y="260.828" width="9" height="81.772" fill="#000"/>
<polygon points="570,234.05 570.617,235.451 572.14,235.605 570.999,236.624 571.323,238.12 570,237.35 568.677,238.12 569.001,236.624 567.86,235.605 569.383,235.451" fill="#111"/>
<text transform="translate(550.923 357.5) scale(0.934 1)" font-size="8.436" fill="#1a1a1a" stroke="#1a1a1a" stroke-width="0.31">Tgr5</text>
<text transform="translate(567.188 354.4) scale(1.051 1)" font-size="5.931" fill="#1a1a1a" stroke="#1a1a1a" stroke-width="0.176">+/+</text>
<text transform="translate(586.227 357.5) scale(0.91 1)" font-size="8.436" fill="#1a1a1a" stroke="#1a1a1a" stroke-width="0.314">Tgr5</text>
<text transform="translate(602.131 354.4) scale(1.009 1)" font-size="5.931" fill="#1a1a1a" stroke="#1a1a1a" stroke-width="0.179">-/-</text>
<rect x="623.7" y="255.5" width="6.4" height="7.5" fill="#d6d6d6" stroke="#111" stroke-width="1.4"/>
<rect x="623" y="266" width="7.8" height="8.9" fill="#000"/>
<text transform="translate(634.214 261.2) scale(0.907 1)" font-size="9.164" fill="#222" stroke="#222" stroke-width="0.315">F1</text>
<text transform="translate(644.19 258.3) scale(1.028 1)" font-size="6.022" fill="#222" stroke="#222" stroke-width="0.148">CT</text>
<text transform="translate(634.214 272.9) scale(0.907 1)" font-size="9.164" fill="#222" stroke="#222" stroke-width="0.315">F1</text>
<text transform="translate(644.164 270) scale(1.203 1)" font-size="5.591" fill="#222" stroke="#222" stroke-width="0.136">CA</text>
<text transform="translate(375.003 403.6) scale(0.995 1)" font-size="9.745" fill="#111" stroke="#111" stroke-width="0.281">ITT</text>
<line x1="302.9" y1="416.5" x2="302.9" y2="524.2" stroke="#1a1a1a" stroke-width="1.35"/>
<line x1="300.3" y1="523.6" x2="302.9" y2="523.6" stroke="#222" stroke-width="1.15"/>
<text transform="translate(299.3 526.45) scale(0.88 1)" font-size="8" text-anchor="end" fill="#1a1a1a" stroke="#1a1a1a" stroke-width="0.3">0</text>
<line x1="300.3" y1="502.3" x2="302.9" y2="502.3" stroke="#222" stroke-width="1.15"/>
<text transform="translate(299.3 505.15) scale(0.88 1)" font-size="8" text-anchor="end" fill="#1a1a1a" stroke="#1a1a1a" stroke-width="0.3">25</text>
<line x1="300.3" y1="481" x2="302.9" y2="481" stroke="#222" stroke-width="1.15"/>
<text transform="translate(299.3 483.85) scale(0.88 1)" font-size="8" text-anchor="end" fill="#1a1a1a" stroke="#1a1a1a" stroke-width="0.3">50</text>
<line x1="300.3" y1="459.7" x2="302.9" y2="459.7" stroke="#222" stroke-width="1.15"/>
<text transform="translate(299.3 462.55) scale(0.88 1)" font-size="8" text-anchor="end" fill="#1a1a1a" stroke="#1a1a1a" stroke-width="0.3">75</text>
<line x1="300.3" y1="438.4" x2="302.9" y2="438.4" stroke="#222" stroke-width="1.15"/>
<text transform="translate(299.3 441.25) scale(0.88 1)" font-size="8" text-anchor="end" fill="#1a1a1a" stroke="#1a1a1a" stroke-width="0.3">100</text>
<line x1="300.3" y1="417.1" x2="302.9" y2="417.1" stroke="#222" stroke-width="1.15"/>
<text transform="translate(299.3 419.95) scale(0.88 1)" font-size="8" text-anchor="end" fill="#1a1a1a" stroke="#1a1a1a" stroke-width="0.3">125</text>
<line x1="301" y1="523.6" x2="462.5" y2="523.6" stroke="#1a1a1a" stroke-width="1.3"/>
<line x1="314.3" y1="523.6" x2="314.3" y2="526.7" stroke="#222" stroke-width="1"/>
<line x1="331.52" y1="523.6" x2="331.52" y2="526.7" stroke="#222" stroke-width="1"/>
<line x1="348.74" y1="523.6" x2="348.74" y2="526.7" stroke="#222" stroke-width="1"/>
<line x1="365.96" y1="523.6" x2="365.96" y2="526.7" stroke="#222" stroke-width="1"/>
<line x1="383.18" y1="523.6" x2="383.18" y2="526.7" stroke="#222" stroke-width="1"/>
<line x1="400.4" y1="523.6" x2="400.4" y2="526.7" stroke="#222" stroke-width="1"/>
<line x1="417.62" y1="523.6" x2="417.62" y2="526.7" stroke="#222" stroke-width="1"/>
<line x1="434.84" y1="523.6" x2="434.84" y2="526.7" stroke="#222" stroke-width="1"/>
<line x1="452.06" y1="523.6" x2="452.06" y2="526.7" stroke="#222" stroke-width="1"/>
<text transform="translate(314.3 535) scale(0.88 1)" font-size="8" text-anchor="middle" fill="#1a1a1a" stroke="#1a1a1a" stroke-width="0.3">0</text>
<text transform="translate(331.52 535) scale(0.88 1)" font-size="8" text-anchor="middle" fill="#1a1a1a" stroke="#1a1a1a" stroke-width="0.3">15</text>
<text transform="translate(348.74 535) scale(0.88 1)" font-size="8" text-anchor="middle" fill="#1a1a1a" stroke="#1a1a1a" stroke-width="0.3">30</text>
<text transform="translate(383.18 535) scale(0.88 1)" font-size="8" text-anchor="middle" fill="#1a1a1a" stroke="#1a1a1a" stroke-width="0.3">60</text>
<text transform="translate(417.62 535) scale(0.88 1)" font-size="8" text-anchor="middle" fill="#1a1a1a" stroke="#1a1a1a" stroke-width="0.3">90</text>
<text transform="translate(452.06 535) scale(0.88 1)" font-size="8" text-anchor="middle" fill="#1a1a1a" stroke="#1a1a1a" stroke-width="0.3">120</text>
<text transform="translate(265.138 535) scale(0.966 1)" font-size="7.448" fill="#1a1a1a" stroke="#1a1a1a" stroke-width="0.305">Time (min)</text>
<text transform="translate(280.387 501.092) rotate(-90) scale(1.074 1)" font-size="7.292" fill="#1a1a1a" stroke="#1a1a1a" stroke-width="0.3">Glycemia (mg/dL)</text>
<polyline points="314.3,438.4 331.52,464.812 348.74,471.628 383.18,471.628 417.62,469.924 452.06,469.072" fill="none" stroke="#9a9a9a" stroke-width="0.9"/>
<line x1="331.52" y1="457.144" x2="331.52" y2="472.48" stroke="#9a9a9a" stroke-width="0.85"/>
<line x1="329.82" y1="457.144" x2="333.22" y2="457.144" stroke="#9a9a9a" stroke-width="0.85"/>
<line x1="329.82" y1="472.48" x2="333.22" y2="472.48" stroke="#9a9a9a" stroke-width="0.85"/>
<line x1="348.74" y1="463.96" x2="348.74" y2="479.296" stroke="#9a9a9a" stroke-width="0.85"/>
<line x1="347.04" y1="463.96" x2="350.44" y2="463.96" stroke="#9a9a9a" stroke-width="0.85"/>
<line x1="347.04" y1="479.296" x2="350.44" y2="479.296" stroke="#9a9a9a" stroke-width="0.85"/>
<line x1="383.18" y1="463.108" x2="383.18" y2="480.148" stroke="#9a9a9a" stroke-width="0.85"/>
<line x1="381.48" y1="463.108" x2="384.88" y2="463.108" stroke="#9a9a9a" stroke-width="0.85"/>
<line x1="381.48" y1="480.148" x2="384.88" y2="480.148" stroke="#9a9a9a" stroke-width="0.85"/>
<line x1="417.62" y1="461.404" x2="417.62" y2="478.444" stroke="#9a9a9a" stroke-width="0.85"/>
<line x1="415.92" y1="461.404" x2="419.32" y2="461.404" stroke="#9a9a9a" stroke-width="0.85"/>
<line x1="415.92" y1="478.444" x2="419.32" y2="478.444" stroke="#9a9a9a" stroke-width="0.85"/>
<line x1="452.06" y1="460.552" x2="452.06" y2="477.592" stroke="#9a9a9a" stroke-width="0.85"/>
<line x1="450.36" y1="460.552" x2="453.76" y2="460.552" stroke="#9a9a9a" stroke-width="0.85"/>
<line x1="450.36" y1="477.592" x2="453.76" y2="477.592" stroke="#9a9a9a" stroke-width="0.85"/>
<circle cx="314.3" cy="438.4" r="1.9" fill="#9a9a9a"/>
<circle cx="331.52" cy="464.812" r="1.9" fill="#9a9a9a"/>
<circle cx="348.74" cy="471.628" r="1.9" fill="#9a9a9a"/>
<circle cx="383.18" cy="471.628" r="1.9" fill="#9a9a9a"/>
<circle cx="417.62" cy="469.924" r="1.9" fill="#9a9a9a"/>
<circle cx="452.06" cy="469.072" r="1.9" fill="#9a9a9a"/>
<polyline points="314.3,438.4 331.52,476.74 348.74,485.26 383.18,481 417.62,481 452.06,483.556" fill="none" stroke="#000" stroke-width="0.9"/>
<line x1="331.52" y1="471.628" x2="331.52" y2="481.852" stroke="#000" stroke-width="0.85"/>
<line x1="329.82" y1="471.628" x2="333.22" y2="471.628" stroke="#000" stroke-width="0.85"/>
<line x1="329.82" y1="481.852" x2="333.22" y2="481.852" stroke="#000" stroke-width="0.85"/>
<line x1="348.74" y1="483.556" x2="348.74" y2="486.964" stroke="#000" stroke-width="0.85"/>
<line x1="347.04" y1="483.556" x2="350.44" y2="483.556" stroke="#000" stroke-width="0.85"/>
<line x1="347.04" y1="486.964" x2="350.44" y2="486.964" stroke="#000" stroke-width="0.85"/>
<line x1="383.18" y1="478.444" x2="383.18" y2="483.556" stroke="#000" stroke-width="0.85"/>
<line x1="381.48" y1="478.444" x2="384.88" y2="478.444" stroke="#000" stroke-width="0.85"/>
<line x1="381.48" y1="483.556" x2="384.88" y2="483.556" stroke="#000" stroke-width="0.85"/>
<line x1="417.62" y1="478.444" x2="417.62" y2="483.556" stroke="#000" stroke-width="0.85"/>
<line x1="415.92" y1="478.444" x2="419.32" y2="478.444" stroke="#000" stroke-width="0.85"/>
<line x1="415.92" y1="483.556" x2="419.32" y2="483.556" stroke="#000" stroke-width="0.85"/>
<line x1="452.06" y1="478.444" x2="452.06" y2="488.668" stroke="#000" stroke-width="0.85"/>
<line x1="450.36" y1="478.444" x2="453.76" y2="478.444" stroke="#000" stroke-width="0.85"/>
<line x1="450.36" y1="488.668" x2="453.76" y2="488.668" stroke="#000" stroke-width="0.85"/>
<circle cx="314.3" cy="438.4" r="1.9" fill="#000"/>
<circle cx="331.52" cy="476.74" r="1.9" fill="#000"/>
<circle cx="348.74" cy="485.26" r="1.9" fill="#000"/>
<circle cx="383.18" cy="481" r="1.9" fill="#000"/>
<circle cx="417.62" cy="481" r="1.9" fill="#000"/>
<circle cx="452.06" cy="483.556" r="1.9" fill="#000"/>
<polyline points="314.3,438.4 331.52,472.48 348.74,476.74 383.18,471.628 417.62,469.072 452.06,467.368" fill="none" stroke="#c8c8c8" stroke-width="0.9" stroke-dasharray="2.2,1.3"/>
<line x1="331.52" y1="465.664" x2="331.52" y2="479.296" stroke="#c8c8c8" stroke-width="0.85"/>
<line x1="329.82" y1="465.664" x2="333.22" y2="465.664" stroke="#c8c8c8" stroke-width="0.85"/>
<line x1="329.82" y1="479.296" x2="333.22" y2="479.296" stroke="#c8c8c8" stroke-width="0.85"/>
<line x1="348.74" y1="469.924" x2="348.74" y2="483.556" stroke="#c8c8c8" stroke-width="0.85"/>
<line x1="347.04" y1="469.924" x2="350.44" y2="469.924" stroke="#c8c8c8" stroke-width="0.85"/>
<line x1="347.04" y1="483.556" x2="350.44" y2="483.556" stroke="#c8c8c8" stroke-width="0.85"/>
<line x1="383.18" y1="463.108" x2="383.18" y2="480.148" stroke="#c8c8c8" stroke-width="0.85"/>
<line x1="381.48" y1="463.108" x2="384.88" y2="463.108" stroke="#c8c8c8" stroke-width="0.85"/>
<line x1="381.48" y1="480.148" x2="384.88" y2="480.148" stroke="#c8c8c8" stroke-width="0.85"/>
<line x1="417.62" y1="460.552" x2="417.62" y2="477.592" stroke="#c8c8c8" stroke-width="0.85"/>
<line x1="415.92" y1="460.552" x2="419.32" y2="460.552" stroke="#c8c8c8" stroke-width="0.85"/>
<line x1="415.92" y1="477.592" x2="419.32" y2="477.592" stroke="#c8c8c8" stroke-width="0.85"/>
<line x1="452.06" y1="458.848" x2="452.06" y2="475.888" stroke="#c8c8c8" stroke-width="0.85"/>
<line x1="450.36" y1="458.848" x2="453.76" y2="458.848" stroke="#c8c8c8" stroke-width="0.85"/>
<line x1="450.36" y1="475.888" x2="453.76" y2="475.888" stroke="#c8c8c8" stroke-width="0.85"/>
<path d="M314.3 436.1L316.4 439.9L312.2 439.9Z" fill="#c8c8c8"/>
<path d="M331.52 470.18L333.62 473.98L329.42 473.98Z" fill="#c8c8c8"/>
<path d="M348.74 474.44L350.84 478.24L346.64 478.24Z" fill="#c8c8c8"/>
<path d="M383.18 469.328L385.28 473.128L381.08 473.128Z" fill="#c8c8c8"/>
<path d="M417.62 466.772L419.72 470.572L415.52 470.572Z" fill="#c8c8c8"/>
<path d="M452.06 465.068L454.16 468.868L449.96 468.868Z" fill="#c8c8c8"/>
<polyline points="314.3,438.4 331.52,472.906 348.74,472.906 383.18,472.48 417.62,474.184 452.06,471.628" fill="none" stroke="#111" stroke-width="0.9" stroke-dasharray="2.2,1.3"/>
<line x1="331.52" y1="463.534" x2="331.52" y2="482.278" stroke="#111" stroke-width="0.85"/>
<line x1="329.82" y1="463.534" x2="333.22" y2="463.534" stroke="#111" stroke-width="0.85"/>
<line x1="329.82" y1="482.278" x2="333.22" y2="482.278" stroke="#111" stroke-width="0.85"/>
<line x1="348.74" y1="464.386" x2="348.74" y2="481.426" stroke="#111" stroke-width="0.85"/>
<line x1="347.04" y1="464.386" x2="350.44" y2="464.386" stroke="#111" stroke-width="0.85"/>
<line x1="347.04" y1="481.426" x2="350.44" y2="481.426" stroke="#111" stroke-width="0.85"/>
<line x1="383.18" y1="462.256" x2="383.18" y2="482.704" stroke="#111" stroke-width="0.85"/>
<line x1="381.48" y1="462.256" x2="384.88" y2="462.256" stroke="#111" stroke-width="0.85"/>
<line x1="381.48" y1="482.704" x2="384.88" y2="482.704" stroke="#111" stroke-width="0.85"/>
<line x1="417.62" y1="463.96" x2="417.62" y2="484.408" stroke="#111" stroke-width="0.85"/>
<line x1="415.92" y1="463.96" x2="419.32" y2="463.96" stroke="#111" stroke-width="0.85"/>
<line x1="415.92" y1="484.408" x2="419.32" y2="484.408" stroke="#111" stroke-width="0.85"/>
<line x1="452.06" y1="461.404" x2="452.06" y2="481.852" stroke="#111" stroke-width="0.85"/>
<line x1="450.36" y1="461.404" x2="453.76" y2="461.404" stroke="#111" stroke-width="0.85"/>
<line x1="450.36" y1="481.852" x2="453.76" y2="481.852" stroke="#111" stroke-width="0.85"/>
<path d="M314.3 436.1L316.4 439.9L312.2 439.9Z" fill="#111"/>
<path d="M331.52 470.606L333.62 474.406L329.42 474.406Z" fill="#111"/>
<path d="M348.74 470.606L350.84 474.406L346.64 474.406Z" fill="#111"/>
<path d="M383.18 470.18L385.28 473.98L381.08 473.98Z" fill="#111"/>
<path d="M417.62 471.884L419.72 475.684L415.52 475.684Z" fill="#111"/>
<path d="M452.06 469.328L454.16 473.128L449.96 473.128Z" fill="#111"/>
<line x1="461.2" y1="410.7" x2="472" y2="410.7" stroke="#9a9a9a" stroke-width="1"/>
<circle cx="466.6" cy="410.7" r="1.8" fill="#9a9a9a"/>
<text transform="translate(473.414 414.8) scale(0.866 1)" font-size="9.6" fill="#222" stroke="#222" stroke-width="0.322">F1</text>
<text transform="translate(483.183 412.4) scale(0.977 1)" font-size="6.483" fill="#222" stroke="#222" stroke-width="0.142">CT; +/+</text>
<line x1="461.2" y1="425.1" x2="472" y2="425.1" stroke="#000" stroke-width="1"/>
<circle cx="466.6" cy="425.1" r="1.8" fill="#000"/>
<text transform="translate(473.414 429.6) scale(0.866 1)" font-size="9.6" fill="#222" stroke="#222" stroke-width="0.322">F1</text>
<text transform="translate(483.126 427.2) scale(1.153 1)" font-size="6.483" fill="#222" stroke="#222" stroke-width="0.13">CA; +/+</text>
<line x1="461.2" y1="440" x2="472" y2="440" stroke="#c8c8c8" stroke-width="1" stroke-dasharray="2,1.3"/>
<path d="M466.6 437.7L468.7 441.5L464.5 441.5Z" fill="#c8c8c8"/>
<text transform="translate(473.414 443.2) scale(0.866 1)" font-size="9.6" fill="#222" stroke="#222" stroke-width="0.322">F1</text>
<text transform="translate(483.173 440.8) scale(1.01 1)" font-size="6.483" fill="#222" stroke="#222" stroke-width="0.139">CT; -/-</text>
<line x1="461.2" y1="454.7" x2="472" y2="454.7" stroke="#111" stroke-width="1" stroke-dasharray="2,1.3"/>
<path d="M466.6 452.4L468.7 456.2L464.5 456.2Z" fill="#111"/>
<text transform="translate(473.414 457.3) scale(0.866 1)" font-size="9.6" fill="#222" stroke="#222" stroke-width="0.322">F1</text>
<text transform="translate(483.11 454.9) scale(1.204 1)" font-size="6.483" fill="#222" stroke="#222" stroke-width="0.127">CA; -/-</text>
<text transform="translate(533.28 403) scale(1.091 1)" font-size="8.621" fill="#111" stroke="#111" stroke-width="0.325">ITT - area under curve</text>
<line x1="549.5" y1="416.005" x2="549.5" y2="524.2" stroke="#1a1a1a" stroke-width="1.35"/>
<line x1="546.9" y1="523.6" x2="549.5" y2="523.6" stroke="#222" stroke-width="1.15"/>
<text transform="translate(545.9 526.45) scale(0.88 1)" font-size="8" text-anchor="end" fill="#1a1a1a" stroke="#1a1a1a" stroke-width="0.3">0</text>
<line x1="546.9" y1="487.935" x2="549.5" y2="487.935" stroke="#222" stroke-width="1.15"/>
<text transform="translate(545.9 490.785) scale(0.88 1)" font-size="8" text-anchor="end" fill="#1a1a1a" stroke="#1a1a1a" stroke-width="0.3">50</text>
<line x1="546.9" y1="452.27" x2="549.5" y2="452.27" stroke="#222" stroke-width="1.15"/>
<text transform="translate(545.9 455.12) scale(0.88 1)" font-size="8" text-anchor="end" fill="#1a1a1a" stroke="#1a1a1a" stroke-width="0.3">100</text>
<line x1="546.9" y1="416.605" x2="549.5" y2="416.605" stroke="#222" stroke-width="1.15"/>
<text transform="translate(545.9 419.455) scale(0.88 1)" font-size="8" text-anchor="end" fill="#1a1a1a" stroke="#1a1a1a" stroke-width="0.3">150</text>
<text transform="translate(527.113 505.08) rotate(-90) scale(0.92 1)" font-size="8.707" fill="#1a1a1a" stroke="#1a1a1a" stroke-width="0.3">% relative to control</text>
<line x1="558" y1="439.787" x2="558" y2="452.27" stroke="#555" stroke-width="1.1"/>
<line x1="555.7" y1="439.787" x2="560.3" y2="439.787" stroke="#555" stroke-width="1.1"/>
<rect x="553.9" y="452.77" width="8.2" height="70.33" fill="#d6d6d6" stroke="#999" stroke-width="1"/>
<line x1="570.4" y1="475.096" x2="570.4" y2="482.942" stroke="#111" stroke-width="1.1"/>
<line x1="568.1" y1="475.096" x2="572.7" y2="475.096" stroke="#111" stroke-width="1.1"/>
<rect x="566" y="482.942" width="8.8" height="40.658" fill="#000"/>
<line x1="590.75" y1="442.284" x2="590.75" y2="452.27" stroke="#555" stroke-width="1.1"/>
<line x1="588.45" y1="442.284" x2="593.05" y2="442.284" stroke="#555" stroke-width="1.1"/>
<rect x="586.8" y="452.77" width="7.9" height="70.33" fill="#d6d6d6" stroke="#999" stroke-width="1"/>
<line x1="603.4" y1="466.536" x2="603.4" y2="468.676" stroke="#111" stroke-width="1.1"/>
<line x1="601.1" y1="466.536" x2="605.7" y2="466.536" stroke="#111" stroke-width="1.1"/>
<rect x="599" y="468.676" width="8.8" height="54.924" fill="#000"/>
<polygon points="570.3,462.05 570.917,463.451 572.44,463.605 571.299,464.624 571.623,466.12 570.3,465.35 568.977,466.12 569.301,464.624 568.16,463.605 569.683,463.451" fill="#111"/>
<text transform="translate(551.323 538.8) scale(0.918 1)" font-size="8.582" fill="#1a1a1a" stroke="#1a1a1a" stroke-width="0.313">Tgr5</text>
<text transform="translate(567.603 535.6) scale(1.001 1)" font-size="5.931" fill="#1a1a1a" stroke="#1a1a1a" stroke-width="0.18">+/+</text>
<text transform="translate(586.527 538.8) scale(0.895 1)" font-size="8.582" fill="#1a1a1a" stroke="#1a1a1a" stroke-width="0.317">Tgr5</text>
<text transform="translate(602.42 535.6) scale(1.048 1)" font-size="5.931" fill="#1a1a1a" stroke="#1a1a1a" stroke-width="0.176">-/-</text>
<rect x="628" y="436.7" width="6.4" height="7.5" fill="#d6d6d6" stroke="#111" stroke-width="1.4"/>
<rect x="627.3" y="447.1" width="7.8" height="8.9" fill="#000"/>
<text transform="translate(638.514 442.4) scale(0.907 1)" font-size="9.164" fill="#222" stroke="#222" stroke-width="0.315">F1</text>
<text transform="translate(648.49 439.5) scale(1.028 1)" font-size="6.022" fill="#222" stroke="#222" stroke-width="0.148">CT</text>
<text transform="translate(638.514 454) scale(0.907 1)" font-size="9.164" fill="#222" stroke="#222" stroke-width="0.315">F1</text>
<text transform="translate(648.464 451.1) scale(1.203 1)" font-size="5.591" fill="#222" stroke="#222" stroke-width="0.136">CA</text>
</svg>
</body></html>
